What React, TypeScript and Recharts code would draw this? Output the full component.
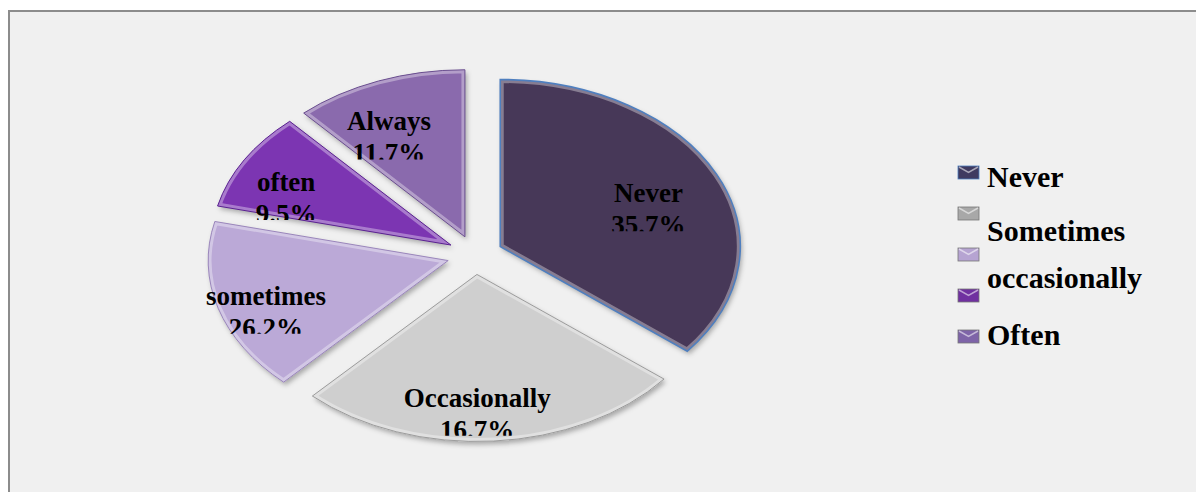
import { PieChart, Pie, Cell, Legend } from 'recharts';

const SLICE_NAMES = ['Never', 'Sometimes', 'occasionally', 'Often', 'Always'];
const SLICE_VALUES = [35.7, 26.2, 16.7, 9.5, 11.7];
// the data labels in the original do not follow slice order, keep them as printed
const LABEL_NAMES = ['Never', 'Occasionally', 'sometimes', 'often', 'Always'];
const LABEL_PERCENTS = ['35.7%', '16.7%', '26.2%', '9.5%', '11.7%'];
const LEGEND_TEXT = ['Never', 'Sometimes', 'occasionally', 'Often'];

const SLICE_COLORS = ['#463858', '#cfcfcf', '#bba9d7', '#7b35b2', '#8a6bad'];
const EDGE_COLORS = ['#4f7fbf', '#9c9c9c', '#9a86bb', '#5a2290', '#6a4e8f'];
const SWATCH_COLORS = ['#3f3a60', '#a8a8a8', '#b6a4d2', '#7030a0', '#7e64a8'];

const data = SLICE_NAMES.map((name, i) => ({ name, value: SLICE_VALUES[i] }));

const SQUASH = 0.696;
const EXPLODE = 28;
const RAD = Math.PI / 180;
const FONT = "'Liberation Serif', 'Times New Roman', serif";

const pt = (cx: number, cy: number, r: number, deg: number) => [
  cx + r * Math.cos(deg * RAD),
  cy - r * SQUASH * Math.sin(deg * RAD),
];

const apex = (cx: number, cy: number, mid: number) => pt(cx, cy, EXPLODE, mid);

function EllipseSlice(props: any) {
  const { cx, cy, outerRadius, startAngle, endAngle, name } = props;
  let i = SLICE_NAMES.indexOf(name);
  if (i < 0) i = props.index ?? 0;
  const mid = (startAngle + endAngle) / 2;
  const [ox, oy] = apex(cx, cy, mid);
  const [x1, y1] = pt(ox, oy, outerRadius, startAngle);
  const [x2, y2] = pt(ox, oy, outerRadius, endAngle);
  const large = Math.abs(startAngle - endAngle) > 180 ? 1 : 0;
  const sweep = startAngle > endAngle ? 1 : 0;
  const d = `M${ox},${oy}L${x1},${y1}A${outerRadius},${outerRadius * SQUASH} 0 ${large} ${sweep} ${x2},${y2}Z`;
  return (
    <g>
      <defs>
        <filter id={`shadow-${i}`} x="-20%" y="-20%" width="140%" height="140%">
          <feDropShadow dx="2" dy="3" stdDeviation="2.5" floodColor="#000" floodOpacity="0.3" />
        </filter>
        <clipPath id={`slice-${i}`}>
          <path d={d} />
        </clipPath>
      </defs>
      <path d={d} fill={SLICE_COLORS[i]} filter={`url(#shadow-${i})`} />
      <path d={d} fill="none" stroke="#fff" strokeOpacity={0.35} strokeWidth={7} clipPath={`url(#slice-${i})`} />
      <path d={d} fill="none" stroke={EDGE_COLORS[i]} strokeWidth={i === 0 ? 1.6 : 1} />
    </g>
  );
}

function renderLabel(props: any) {
  const { cx, cy, midAngle, outerRadius, index } = props;
  const [ox, oy] = apex(cx, cy, midAngle);
  const [lx, ly] = pt(ox, oy, outerRadius * 0.74, midAngle);
  const x = lx - 12;
  const b1 = ly + 9;
  return (
    <g key={`lbl-${index}`}>
      <defs>
        <clipPath id={`lblclip-${index}`}>
          <rect x={x - 120} y={b1 - 32} width={240} height={61} />
        </clipPath>
      </defs>
      <g clipPath={`url(#lblclip-${index})`}>
        <text x={x} y={b1} textAnchor="middle" fontFamily={FONT} fontWeight="bold" fontSize={27} fill="#000">
          <tspan x={x} y={b1}>{LABEL_NAMES[index]}</tspan>
          <tspan x={x} y={b1 + 32}>{LABEL_PERCENTS[index]}</tspan>
        </text>
      </g>
    </g>
  );
}

const LEGEND_BASELINES = [32, 86, 133, 190];

function LegendBox() {
  return (
    <svg width={240} height={200}>
      {SWATCH_COLORS.map((c, i) => (
        <g key={i} transform={`translate(8, ${11 + 41 * i})`}>
          <rect width={21} height={13} fill={c} stroke={i === 0 ? '#4f7fbf' : '#777'} strokeWidth={0.8} />
          <polyline points="1,1 10.5,6.5 20,1" fill="none" stroke="#fff" strokeOpacity={0.55} strokeWidth={1.5} />
        </g>
      ))}
      {LEGEND_TEXT.map((t, i) => (
        <text key={t} x={37} y={LEGEND_BASELINES[i]} fontFamily={FONT} fontWeight="bold" fontSize={30} fill="#000">
          {t}
        </text>
      ))}
    </svg>
  );
}

export default function App() {
  return (
    <div style={{ position: 'fixed', left: 0, top: 0, width: 1196, height: 492, overflow: 'hidden', background: '#fff' }}>
      <div
        style={{
          position: 'absolute',
          left: 8,
          top: 10,
          width: 1200,
          height: 500,
          borderTop: '2px solid #8c8c8c',
          borderLeft: '2px solid #8c8c8c',
          background: '#f0f0f0',
        }}
      />
      <div style={{ position: 'absolute', left: 0, top: 0 }}>
        <PieChart width={1196} height={492} margin={{ top: 0, right: 0, bottom: 0, left: 0 }}>
          <Pie
            data={data}
            dataKey="value"
            nameKey="name"
            cx={475}
            cy={255}
            outerRadius={240}
            startAngle={90}
            endAngle={-270}
            stroke="none"
            isAnimationActive={false}
            shape={EllipseSlice}
            activeShape={EllipseSlice}
            inactiveShape={EllipseSlice}
            label={renderLabel}
            labelLine={false}
          >
            {data.map((_, i) => (
              <Cell key={i} fill={SLICE_COLORS[i]} />
            ))}
          </Pie>
          <Legend content={() => <LegendBox />} wrapperStyle={{ left: 950, top: 155, width: 240, height: 200 }} />
        </PieChart>
      </div>
    </div>
  );
}
